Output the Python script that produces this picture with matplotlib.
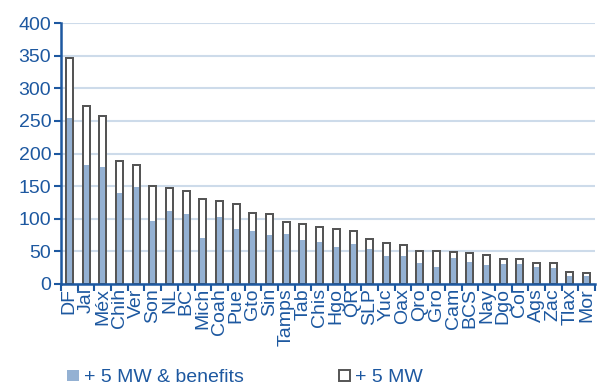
import matplotlib.pyplot as plt
from matplotlib.patches import Patch
from matplotlib.ticker import FixedLocator

plt.rcParams["font.family"] = ["Liberation Sans", "DejaVu Sans"]

TEXT = "#1d58a0"
BLUE = "#94b1d3"
EDGE = "#555555"
GRID = "#cddbea"

states = ["DF", "Jal", "Méx", "Chih", "Ver", "Son", "NL", "BC", "Mich", "Coah",
          "Pue", "Gto", "Sin", "Tamps", "Tab", "Chis", "Hgo", "QR", "SLP", "Yuc",
          "Oax", "Qro", "Gro", "Cam", "BCS", "Nay", "Dgo", "Col", "Ags", "Zac",
          "Tlax", "Mor"]
mw_benefits = [254, 182, 179, 139, 149, 97, 112, 107, 71, 103,
               84, 81, 75, 77, 67, 64, 57, 61, 54, 43,
               43, 32, 26, 40, 34, 29, 31, 31, 26, 25,
               12, 12]
mw_only = [346, 273, 257, 188, 182, 150, 147, 143, 130, 127,
           122, 109, 108, 95, 92, 87, 84, 81, 69, 63,
           60, 51, 51, 49, 47, 45, 39, 39, 32, 32,
           19, 17]

fig = plt.figure(figsize=(6.03, 3.91), dpi=100)
ax = fig.add_axes([61 / 603, 107 / 391, 534 / 603, 261 / 391])

x = list(range(len(states)))
w = 0.42
ax.bar(x, mw_only, width=w, color="white", edgecolor=EDGE, linewidth=1.4, zorder=2)
ax.bar(x, mw_benefits, width=w, color=BLUE, linewidth=0, zorder=3)
ax.bar(x, mw_only, width=w, fill=False, edgecolor=EDGE, linewidth=1.4, zorder=4)

ax.set_xlim(-0.5, len(states) - 0.5)
ax.set_ylim(0, 400)
ax.set_yticks(range(0, 401, 50))
ax.yaxis.grid(True, color=GRID, linewidth=1.5)
ax.set_axisbelow(True)

# tick marks between categories, labels at the centres
ax.xaxis.set_major_locator(FixedLocator([i - 0.5 for i in range(len(states) + 1)]))
ax.xaxis.set_major_formatter(plt.NullFormatter())
ax.xaxis.set_minor_locator(FixedLocator(x))
ax.set_xticklabels(states, minor=True, rotation=90)
ax.tick_params(axis="x", which="major", length=5, width=1.5, color=TEXT, direction="out")
ax.tick_params(axis="x", which="minor", length=0, pad=3, labelsize=14, labelcolor=TEXT)
ax.tick_params(axis="y", length=5, width=1.5, color=TEXT, labelsize=14,
               labelcolor=TEXT, pad=2)

for side in ["top", "right"]:
    ax.spines[side].set_visible(False)
for side in ["left", "bottom"]:
    ax.spines[side].set_color(TEXT)
    ax.spines[side].set_linewidth(1.8)
    ax.spines[side].set_zorder(5)

handles = [Patch(facecolor=BLUE, edgecolor="none", label="+ 5 MW & benefits"),
           Patch(facecolor="white", edgecolor=EDGE, linewidth=1.4, label="+ 5 MW")]
fig.legend(handles=handles, loc="center left", bbox_to_anchor=(67 / 603, 1 - 378 / 391),
           ncol=2, frameon=False, fontsize=14, labelcolor=TEXT,
           handlelength=0.6, handleheight=0.55, handletextpad=0.25,
           columnspacing=4.9, borderpad=0, borderaxespad=0)

fig.savefig("out.png", dpi=100)
